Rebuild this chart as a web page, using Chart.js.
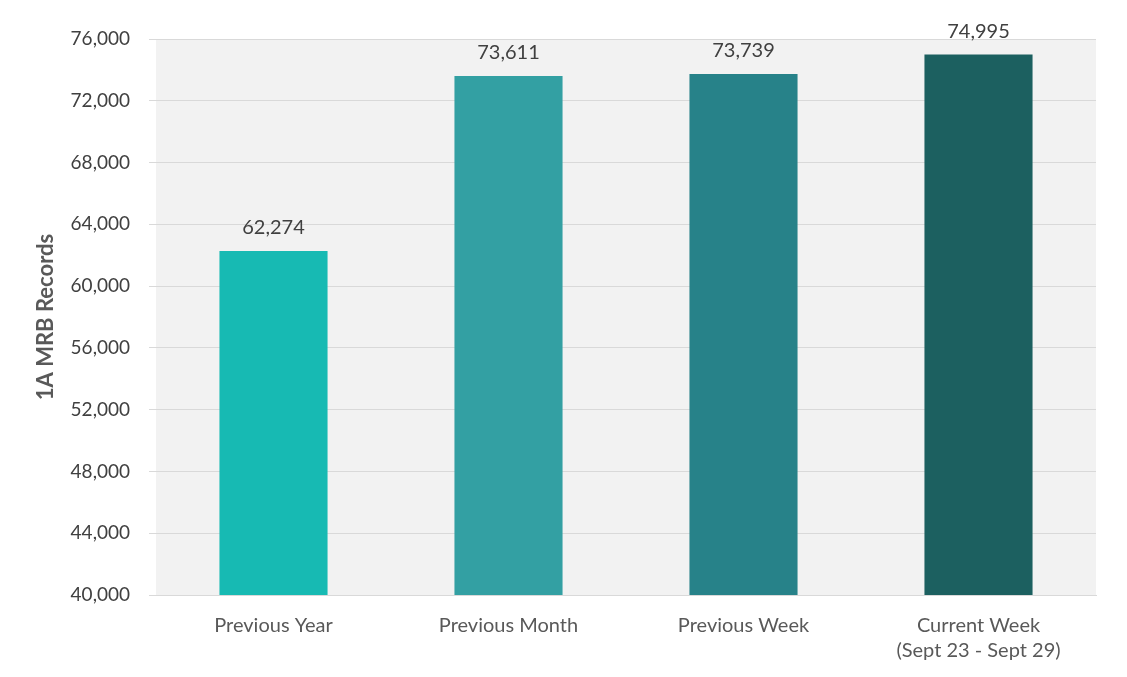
<!DOCTYPE html>
<html>
<head>
<meta charset="utf-8">
<script src="https://cdn.jsdelivr.net/npm/chart.js@4/dist/chart.umd.min.js"></script>
<style>
  html, body { margin: 0; padding: 0; background: #fff; }
  #wrap { width: 1127px; height: 677px; }
</style>
</head>
<body>
<div id="wrap"><canvas id="mrbChart" width="1127" height="677"></canvas></div>
<script>
// Chart data
const categories = ["Previous Year", "Previous Month", "Previous Week", ["Current Week", "(Sept 23 - Sept 29)"]];
const records = [62274, 73611, 73739, 74995];
const barColors = ["#17bab3", "#33a0a3", "#278289", "#1c6060"];
const yMin = 40000;
const yMax = 76000;
const yStep = 4000;

// Light grey plot background
const plotBg = {
  id: "plotBg",
  beforeDraw(chart) {
    const { ctx, chartArea: a } = chart;
    ctx.save();
    ctx.fillStyle = "#f2f2f2";
    ctx.fillRect(a.left, a.top, a.right - a.left, a.bottom - a.top);
    ctx.restore();
  },
};

// Value labels above bars
const valueLabels = {
  id: "valueLabels",
  afterDatasetsDraw(chart) {
    const ctx = chart.ctx;
    const meta = chart.getDatasetMeta(0);
    ctx.save();
    ctx.font = "20px Lato";
    ctx.fillStyle = "#404040";
    ctx.textAlign = "center";
    ctx.textBaseline = "middle";
    meta.data.forEach((bar, i) => {
      ctx.fillText(records[i].toLocaleString("en-US"), bar.x, bar.y - 23);
    });
    ctx.restore();
  },
};

new Chart(document.getElementById("mrbChart"), {
  type: "bar",
  data: {
    labels: categories,
    datasets: [
      {
        data: records,
        backgroundColor: barColors,
        barPercentage: 0.46,
        categoryPercentage: 1,
      },
    ],
  },
  options: {
    responsive: false,
    animation: false,
    layout: { padding: { top: 39, right: 31, left: 0, bottom: 0 } },
    plugins: { legend: { display: false }, tooltip: { enabled: false } },
    scales: {
      x: {
        grid: { display: false },
        border: { color: "#d9d9d9", width: 1 },
        ticks: {
          color: "#595959",
          font: { family: "Lato", size: 20, lineHeight: 1.25 },
          padding: 10,
          maxRotation: 0,
        },
        afterFit(scale) { scale.height = 82; },
      },
      y: {
        min: yMin,
        max: yMax,
        grid: { color: "#d9d9d9", tickLength: 7 },
        border: { display: false },
        ticks: {
          stepSize: yStep,
          color: "#404040",
          font: { family: "Lato", size: 19 },
          padding: 19,
          callback: (v) => v.toLocaleString("en-US"),
        },
        title: {
          display: true,
          text: "1A MRB Records",
          color: "#595959",
          font: { family: "Lato", size: 22, weight: "bold" },
          padding: { top: 33, bottom: 0 },
        },
        afterFit(scale) { scale.width = 156; },
      },
    },
  },
  plugins: [plotBg, valueLabels],
});
</script>
</body>
</html>
